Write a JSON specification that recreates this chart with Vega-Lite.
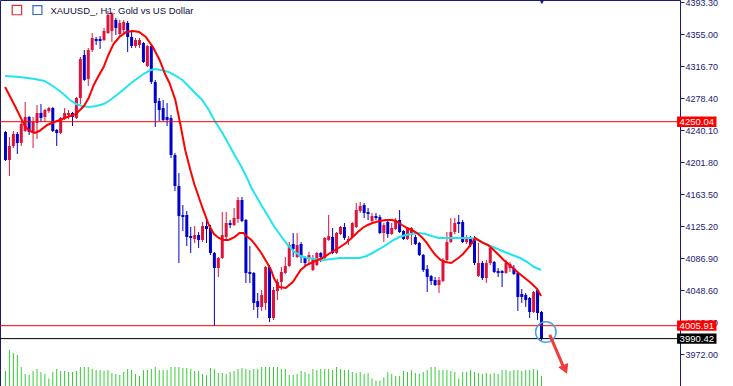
{
"$schema": "https://vega.github.io/schema/vega-lite/v6.json",
"width": 680, "height": 386,
"padding": {"left": 0, "top": 0, "right": 53, "bottom": 0},
"autosize": {"type": "none"},
"background": "white",
"config": {"view": {"stroke": "#1b1b78", "strokeWidth": 1}, "font": "Liberation Sans"},
"datasets": {
"one": [{}],
"candles": [
{"i":0,"o":4237.7,"h":4238.9,"l":4203.0,"c":4204.2,"v":150},
{"i":1,"o":4204.2,"h":4231.7,"l":4185.1,"c":4221.0,"v":360},
{"i":2,"o":4221.0,"h":4238.9,"l":4218.6,"c":4235.3,"v":330},
{"i":3,"o":4235.3,"h":4237.7,"l":4211.4,"c":4224.6,"v":310},
{"i":4,"o":4224.6,"h":4249.7,"l":4221.0,"c":4247.3,"v":190},
{"i":5,"o":4238.9,"h":4273.6,"l":4237.7,"c":4255.7,"v":120},
{"i":6,"o":4255.7,"h":4256.9,"l":4234.1,"c":4237.7,"v":110},
{"i":7,"o":4237.7,"h":4255.7,"l":4218.6,"c":4249.7,"v":150},
{"i":8,"o":4248.5,"h":4270.0,"l":4229.3,"c":4260.5,"v":170},
{"i":9,"o":4260.5,"h":4271.2,"l":4249.7,"c":4254.5,"v":140},
{"i":10,"o":4255.7,"h":4265.2,"l":4249.7,"c":4264.0,"v":120},
{"i":11,"o":4262.8,"h":4267.6,"l":4260.5,"c":4266.4,"v":75},
{"i":12,"o":4266.4,"h":4267.6,"l":4237.7,"c":4238.9,"v":140},
{"i":13,"o":4240.1,"h":4241.3,"l":4221.0,"c":4236.5,"v":170},
{"i":14,"o":4236.5,"h":4255.7,"l":4235.3,"c":4254.5,"v":150},
{"i":15,"o":4254.5,"h":4266.4,"l":4252.1,"c":4260.5,"v":150},
{"i":16,"o":4258.1,"h":4264.0,"l":4253.3,"c":4260.5,"v":140},
{"i":17,"o":4260.5,"h":4261.7,"l":4244.9,"c":4255.7,"v":140},
{"i":18,"o":4254.5,"h":4279.6,"l":4253.3,"c":4278.4,"v":150},
{"i":19,"o":4278.4,"h":4327.5,"l":4271.2,"c":4325.1,"v":190},
{"i":20,"o":4329.9,"h":4335.9,"l":4298.8,"c":4300.0,"v":190},
{"i":21,"o":4301.2,"h":4338.3,"l":4292.8,"c":4335.9,"v":190},
{"i":22,"o":4335.9,"h":4356.2,"l":4333.5,"c":4350.2,"v":170},
{"i":23,"o":4349.0,"h":4351.4,"l":4341.8,"c":4346.6,"v":160},
{"i":24,"o":4349.0,"h":4352.6,"l":4337.1,"c":4346.6,"v":160},
{"i":25,"o":4347.8,"h":4362.2,"l":4346.6,"c":4358.6,"v":150},
{"i":26,"o":4356.2,"h":4382.5,"l":4355.0,"c":4377.8,"v":160},
{"i":27,"o":4358.6,"h":4381.3,"l":4345.4,"c":4378.9,"v":130},
{"i":28,"o":4371.8,"h":4374.2,"l":4353.8,"c":4362.2,"v":120},
{"i":29,"o":4355.0,"h":4371.8,"l":4351.4,"c":4368.2,"v":110},
{"i":30,"o":4359.8,"h":4371.8,"l":4353.8,"c":4369.4,"v":140},
{"i":31,"o":4368.2,"h":4370.6,"l":4333.5,"c":4351.4,"v":170},
{"i":32,"o":4351.4,"h":4359.8,"l":4338.3,"c":4340.7,"v":160},
{"i":33,"o":4340.6,"h":4350.2,"l":4338.3,"c":4347.8,"v":120},
{"i":34,"o":4341.8,"h":4350.2,"l":4338.3,"c":4347.8,"v":100},
{"i":35,"o":4344.2,"h":4345.4,"l":4320.3,"c":4321.5,"v":160},
{"i":36,"o":4316.7,"h":4341.8,"l":4315.5,"c":4340.6,"v":160},
{"i":37,"o":4340.6,"h":4341.8,"l":4295.2,"c":4297.6,"v":170},
{"i":38,"o":4297.6,"h":4300.0,"l":4243.7,"c":4272.4,"v":190},
{"i":39,"o":4274.8,"h":4278.4,"l":4250.9,"c":4264.0,"v":160},
{"i":40,"o":4266.4,"h":4276.0,"l":4250.9,"c":4252.1,"v":160},
{"i":41,"o":4255.7,"h":4272.4,"l":4244.9,"c":4252.1,"v":160},
{"i":42,"o":4254.5,"h":4258.1,"l":4206.6,"c":4210.2,"v":190},
{"i":43,"o":4210.2,"h":4212.6,"l":4167.1,"c":4173.1,"v":190},
{"i":44,"o":4173.1,"h":4188.6,"l":4080.9,"c":4137.2,"v":190},
{"i":45,"o":4138.4,"h":4150.3,"l":4119.2,"c":4136.0,"v":180},
{"i":46,"o":4138.4,"h":4143.2,"l":4101.3,"c":4112.0,"v":180},
{"i":47,"o":4113.2,"h":4124.0,"l":4092.9,"c":4110.9,"v":170},
{"i":48,"o":4109.7,"h":4125.2,"l":4104.9,"c":4114.4,"v":150},
{"i":49,"o":4114.4,"h":4118.0,"l":4098.9,"c":4108.5,"v":150},
{"i":50,"o":4108.5,"h":4130.0,"l":4106.1,"c":4125.2,"v":120},
{"i":51,"o":4125.2,"h":4132.4,"l":4104.9,"c":4121.6,"v":110},
{"i":52,"o":4122.8,"h":4126.4,"l":4090.5,"c":4092.9,"v":180},
{"i":53,"o":4092.9,"h":4094.1,"l":4005.9,"c":4074.9,"v":170},
{"i":54,"o":4074.9,"h":4088.1,"l":4064.2,"c":4086.9,"v":130},
{"i":55,"o":4086.9,"h":4142.0,"l":4085.7,"c":4114.4,"v":130},
{"i":56,"o":4112.0,"h":4142.0,"l":4109.7,"c":4128.8,"v":120},
{"i":57,"o":4128.8,"h":4132.4,"l":4122.8,"c":4126.4,"v":140},
{"i":58,"o":4126.4,"h":4146.8,"l":4125.2,"c":4134.8,"v":150},
{"i":59,"o":4133.6,"h":4159.9,"l":4128.8,"c":4156.3,"v":170},
{"i":60,"o":4156.3,"h":4159.9,"l":4130.0,"c":4131.2,"v":180},
{"i":61,"o":4132.4,"h":4133.6,"l":4057.0,"c":4069.0,"v":170},
{"i":62,"o":4070.2,"h":4101.3,"l":4057.0,"c":4067.8,"v":160},
{"i":63,"o":4069.0,"h":4070.2,"l":4024.7,"c":4033.1,"v":170},
{"i":64,"o":4035.4,"h":4045.0,"l":4015.1,"c":4028.3,"v":170},
{"i":65,"o":4028.3,"h":4048.6,"l":4023.5,"c":4042.6,"v":190},
{"i":66,"o":4033.1,"h":4077.3,"l":4024.7,"c":4076.1,"v":190},
{"i":67,"o":4076.1,"h":4078.5,"l":4010.3,"c":4015.1,"v":190},
{"i":68,"o":4015.1,"h":4052.2,"l":4012.7,"c":4048.6,"v":190},
{"i":69,"o":4047.4,"h":4061.8,"l":4036.6,"c":4058.2,"v":190},
{"i":70,"o":4058.2,"h":4076.1,"l":4048.6,"c":4070.2,"v":170},
{"i":71,"o":4069.0,"h":4088.1,"l":4067.8,"c":4077.3,"v":170},
{"i":72,"o":4077.3,"h":4106.1,"l":4076.1,"c":4102.5,"v":110},
{"i":73,"o":4103.7,"h":4116.8,"l":4088.1,"c":4097.7,"v":110},
{"i":74,"o":4088.1,"h":4116.8,"l":4086.9,"c":4102.5,"v":120},
{"i":75,"o":4103.7,"h":4106.1,"l":4080.9,"c":4088.1,"v":150},
{"i":76,"o":4086.9,"h":4089.3,"l":4076.1,"c":4080.9,"v":140},
{"i":77,"o":4086.9,"h":4094.1,"l":4078.5,"c":4090.5,"v":120},
{"i":78,"o":4072.5,"h":4090.5,"l":4071.3,"c":4086.9,"v":170},
{"i":79,"o":4078.5,"h":4094.1,"l":4077.3,"c":4092.9,"v":160},
{"i":80,"o":4092.9,"h":4094.1,"l":4082.1,"c":4088.1,"v":170},
{"i":81,"o":4086.9,"h":4112.0,"l":4084.5,"c":4110.9,"v":170},
{"i":82,"o":4108.5,"h":4138.4,"l":4107.3,"c":4113.2,"v":170},
{"i":83,"o":4112.0,"h":4122.8,"l":4091.7,"c":4092.9,"v":160},
{"i":84,"o":4092.9,"h":4118.0,"l":4091.7,"c":4116.8,"v":190},
{"i":85,"o":4115.6,"h":4125.2,"l":4114.4,"c":4124.0,"v":170},
{"i":86,"o":4124.0,"h":4128.8,"l":4108.5,"c":4110.9,"v":160},
{"i":87,"o":4107.3,"h":4113.2,"l":4102.5,"c":4109.7,"v":160},
{"i":88,"o":4112.0,"h":4130.0,"l":4110.9,"c":4128.8,"v":140},
{"i":89,"o":4124.0,"h":4152.7,"l":4122.8,"c":4144.4,"v":130},
{"i":90,"o":4143.2,"h":4153.9,"l":4140.8,"c":4149.2,"v":140},
{"i":91,"o":4150.3,"h":4152.7,"l":4134.8,"c":4140.8,"v":120},
{"i":92,"o":4142.0,"h":4146.8,"l":4132.4,"c":4139.6,"v":130},
{"i":93,"o":4131.2,"h":4140.8,"l":4130.0,"c":4137.2,"v":75},
{"i":94,"o":4137.2,"h":4140.8,"l":4132.4,"c":4134.8,"v":54},
{"i":95,"o":4136.0,"h":4138.4,"l":4115.6,"c":4116.8,"v":54},
{"i":96,"o":4116.8,"h":4128.8,"l":4106.1,"c":4126.4,"v":86},
{"i":97,"o":4130.0,"h":4132.4,"l":4110.9,"c":4115.6,"v":140},
{"i":98,"o":4115.6,"h":4128.8,"l":4114.4,"c":4122.8,"v":120},
{"i":99,"o":4121.6,"h":4134.8,"l":4120.4,"c":4131.2,"v":100},
{"i":100,"o":4132.4,"h":4144.4,"l":4116.8,"c":4118.0,"v":100},
{"i":101,"o":4119.2,"h":4120.4,"l":4108.5,"c":4109.7,"v":150},
{"i":102,"o":4109.7,"h":4124.0,"l":4108.5,"c":4121.6,"v":140},
{"i":103,"o":4116.8,"h":4124.0,"l":4102.5,"c":4122.8,"v":160},
{"i":104,"o":4112.0,"h":4114.4,"l":4102.5,"c":4103.7,"v":130},
{"i":105,"o":4104.9,"h":4106.1,"l":4089.3,"c":4090.5,"v":120},
{"i":106,"o":4090.5,"h":4091.7,"l":4070.2,"c":4072.5,"v":140},
{"i":107,"o":4073.7,"h":4078.5,"l":4046.2,"c":4064.2,"v":160},
{"i":108,"o":4065.4,"h":4066.6,"l":4054.6,"c":4059.4,"v":190},
{"i":109,"o":4060.6,"h":4064.2,"l":4053.4,"c":4054.6,"v":190},
{"i":110,"o":4054.6,"h":4064.2,"l":4045.0,"c":4060.6,"v":160},
{"i":111,"o":4059.4,"h":4086.9,"l":4058.2,"c":4084.5,"v":160},
{"i":112,"o":4084.5,"h":4118.0,"l":4082.1,"c":4106.1,"v":160},
{"i":113,"o":4106.1,"h":4134.8,"l":4104.9,"c":4118.0,"v":150},
{"i":114,"o":4118.0,"h":4134.8,"l":4115.6,"c":4128.8,"v":140},
{"i":115,"o":4130.0,"h":4138.4,"l":4116.8,"c":4127.6,"v":75},
{"i":116,"o":4130.0,"h":4132.4,"l":4104.9,"c":4106.1,"v":140},
{"i":117,"o":4106.1,"h":4114.4,"l":4103.7,"c":4110.9,"v":140},
{"i":118,"o":4110.9,"h":4113.2,"l":4100.1,"c":4102.5,"v":160},
{"i":119,"o":4108.5,"h":4113.2,"l":4078.5,"c":4080.9,"v":140},
{"i":120,"o":4065.4,"h":4104.9,"l":4064.2,"c":4080.9,"v":130},
{"i":121,"o":4080.9,"h":4083.3,"l":4060.6,"c":4063.0,"v":120},
{"i":122,"o":4063.0,"h":4084.5,"l":4057.0,"c":4080.9,"v":130},
{"i":123,"o":4080.9,"h":4101.3,"l":4078.5,"c":4098.9,"v":120},
{"i":124,"o":4082.1,"h":4083.3,"l":4069.0,"c":4070.2,"v":130},
{"i":125,"o":4071.3,"h":4074.9,"l":4064.2,"c":4069.0,"v":120},
{"i":126,"o":4071.3,"h":4072.5,"l":4052.2,"c":4069.0,"v":160},
{"i":127,"o":4069.0,"h":4084.5,"l":4067.8,"c":4080.9,"v":160},
{"i":128,"o":4074.9,"h":4082.1,"l":4070.2,"c":4079.7,"v":150},
{"i":129,"o":4074.9,"h":4078.5,"l":4066.6,"c":4067.8,"v":160},
{"i":130,"o":4069.0,"h":4070.2,"l":4023.5,"c":4040.2,"v":160},
{"i":131,"o":4043.8,"h":4049.8,"l":4033.1,"c":4040.2,"v":150},
{"i":132,"o":4042.6,"h":4045.0,"l":4028.3,"c":4036.6,"v":160},
{"i":133,"o":4039.0,"h":4040.2,"l":4015.1,"c":4022.3,"v":160},
{"i":134,"o":4022.3,"h":4047.4,"l":4021.1,"c":4046.2,"v":170},
{"i":135,"o":4048.6,"h":4049.8,"l":4012.7,"c":4021.1,"v":160},
{"i":136,"o":4022.3,"h":4023.5,"l":3988.0,"c":3990.4,"v":100}
],
"red": [
{"k":-0.1,"p":4291.6},{"k":2.4,"p":4268.8},{"k":4.9,"p":4244.9},{"k":6.1,"p":4238.9},{"k":7.4,"p":4236.5},{"k":8.6,"p":4238.9},{"k":10.6,"p":4246.1},{"k":12.4,"p":4249.7},{"k":14.4,"p":4253.3},{"k":16.4,"p":4256.9},{"k":17.9,"p":4259.3},{"k":18.9,"p":4264.0},{"k":19.9,"p":4268.8},{"k":21.1,"p":4278.4},{"k":22.4,"p":4294.0},{"k":23.6,"p":4304.7},{"k":24.9,"p":4315.5},{"k":26.1,"p":4329.9},{"k":27.4,"p":4343.0},{"k":28.9,"p":4351.4},{"k":30.6,"p":4357.4},{"k":32.4,"p":4358.6},{"k":33.9,"p":4357.4},{"k":35.6,"p":4351.4},{"k":37.4,"p":4339.4},{"k":39.1,"p":4323.9},{"k":40.6,"p":4305.9},{"k":41.6,"p":4296.4},{"k":43.1,"p":4276.0},{"k":44.4,"p":4246.1},{"k":45.6,"p":4216.2},{"k":46.9,"p":4192.2},{"k":47.9,"p":4175.5},{"k":49.9,"p":4148.0},{"k":51.6,"p":4126.4},{"k":52.9,"p":4115.6},{"k":54.1,"p":4110.9},{"k":55.4,"p":4108.5},{"k":56.6,"p":4108.5},{"k":58.1,"p":4112.0},{"k":59.4,"p":4116.8},{"k":60.4,"p":4116.8},{"k":61.1,"p":4113.2},{"k":62.4,"p":4108.5},{"k":63.6,"p":4101.3},{"k":64.9,"p":4092.9},{"k":66.4,"p":4080.9},{"k":67.4,"p":4072.5},{"k":68.1,"p":4063.0},{"k":69.4,"p":4052.2},{"k":71.1,"p":4051.0},{"k":72.9,"p":4058.2},{"k":74.9,"p":4072.5},{"k":76.4,"p":4078.5},{"k":78.1,"p":4082.1},{"k":80.4,"p":4086.9},{"k":82.4,"p":4092.9},{"k":84.9,"p":4100.1},{"k":86.4,"p":4104.9},{"k":88.1,"p":4112.0},{"k":89.4,"p":4118.0},{"k":90.6,"p":4122.8},{"k":91.9,"p":4126.4},{"k":93.1,"p":4128.8},{"k":94.9,"p":4131.2},{"k":96.6,"p":4132.4},{"k":98.1,"p":4132.4},{"k":99.1,"p":4131.2},{"k":100.6,"p":4126.4},{"k":101.9,"p":4122.8},{"k":103.1,"p":4120.4},{"k":104.4,"p":4116.8},{"k":105.6,"p":4112.0},{"k":106.9,"p":4104.9},{"k":108.1,"p":4096.5},{"k":109.1,"p":4090.5},{"k":110.4,"p":4084.5},{"k":111.6,"p":4082.1},{"k":113.1,"p":4080.9},{"k":114.9,"p":4086.9},{"k":116.1,"p":4091.7},{"k":117.4,"p":4098.9},{"k":118.4,"p":4104.9},{"k":119.1,"p":4110.9},{"k":119.9,"p":4108.5},{"k":121.1,"p":4104.9},{"k":122.4,"p":4102.5},{"k":123.6,"p":4097.7},{"k":124.9,"p":4091.7},{"k":126.4,"p":4084.5},{"k":127.9,"p":4078.5},{"k":129.9,"p":4070.2},{"k":131.1,"p":4065.4},{"k":132.4,"p":4060.6},{"k":133.6,"p":4055.8},{"k":134.9,"p":4049.8},{"k":135.9,"p":4041.4}
],
"cyan": [
{"k":-0.1,"p":4304.7},{"k":3.6,"p":4303.5},{"k":7.4,"p":4301.2},{"k":9.9,"p":4298.8},{"k":12.4,"p":4291.6},{"k":14.4,"p":4284.4},{"k":16.4,"p":4276.0},{"k":17.9,"p":4271.2},{"k":19.4,"p":4268.8},{"k":21.1,"p":4267.6},{"k":23.1,"p":4268.8},{"k":24.9,"p":4271.2},{"k":26.6,"p":4276.0},{"k":28.6,"p":4283.2},{"k":30.4,"p":4290.4},{"k":31.9,"p":4296.4},{"k":33.6,"p":4302.4},{"k":35.4,"p":4308.3},{"k":36.9,"p":4311.9},{"k":37.9,"p":4313.1},{"k":39.4,"p":4311.9},{"k":41.4,"p":4309.5},{"k":42.9,"p":4305.9},{"k":44.9,"p":4300.0},{"k":46.9,"p":4290.4},{"k":48.6,"p":4282.0},{"k":49.9,"p":4276.0},{"k":51.6,"p":4264.0},{"k":53.1,"p":4250.9},{"k":54.9,"p":4237.7},{"k":56.6,"p":4223.4},{"k":58.1,"p":4210.2},{"k":59.9,"p":4195.8},{"k":61.4,"p":4181.5},{"k":62.4,"p":4170.7},{"k":63.6,"p":4161.1},{"k":64.9,"p":4150.3},{"k":66.6,"p":4137.2},{"k":68.1,"p":4125.2},{"k":69.9,"p":4113.2},{"k":71.6,"p":4102.5},{"k":73.1,"p":4095.3},{"k":74.9,"p":4089.3},{"k":76.6,"p":4086.9},{"k":78.6,"p":4085.7},{"k":80.6,"p":4084.5},{"k":82.9,"p":4085.7},{"k":84.9,"p":4086.9},{"k":87.4,"p":4086.9},{"k":89.9,"p":4086.9},{"k":91.6,"p":4089.3},{"k":93.1,"p":4092.9},{"k":94.9,"p":4097.7},{"k":96.6,"p":4102.5},{"k":98.1,"p":4107.3},{"k":99.9,"p":4112.0},{"k":101.6,"p":4114.4},{"k":103.1,"p":4115.6},{"k":104.9,"p":4116.8},{"k":106.6,"p":4115.6},{"k":108.1,"p":4113.2},{"k":109.9,"p":4110.9},{"k":112.4,"p":4110.9},{"k":114.9,"p":4110.9},{"k":116.6,"p":4110.9},{"k":118.1,"p":4110.9},{"k":119.9,"p":4108.5},{"k":122.4,"p":4102.5},{"k":124.9,"p":4097.7},{"k":126.6,"p":4094.1},{"k":128.6,"p":4090.5},{"k":130.6,"p":4086.9},{"k":132.4,"p":4082.1},{"k":134.1,"p":4076.1},{"k":135.9,"p":4072.5}
]
},
"layer": [
{
"data": {"name": "candles"},
"mark": {"type": "rule", "color": "#32cd32", "strokeWidth": 1},
"encoding": {
"x": {"field": "i", "type": "quantitative", "scale": {"domain": [-0.125, 169.875], "nice": false, "zero": false}, "axis": null},
"y": {"field": "v", "type": "quantitative", "scale": {"domain": [0, 3860], "nice": false, "zero": true}, "axis": null},
"y2": {"datum": 0}
}
},
{
"layer": [
{
"data": {"name": "candles"},
"mark": {"type": "rule", "strokeWidth": 1},
"encoding": {
"x": {"field": "i", "type": "quantitative", "scale": {"domain": [-0.125, 169.875], "nice": false, "zero": false}, "axis": null},
"y": {"field": "l", "type": "quantitative", "scale": {"domain": [3933.71, 4395.7], "nice": false, "zero": false},
"axis": {"orient": "right", "values": [4393.3, 4355.0, 4316.7, 4278.4, 4240.1, 4201.8, 4163.5, 4125.2, 4086.9, 4048.6, 4010.3, 3972.0], "tickCount": 40, "format": ".2f", "title": null, "grid": false, "domainColor": "#1b1b78", "tickColor": "#1b1b78", "labelColor": "#1b1b78", "labelFont": "Liberation Sans", "labelFontSize": 9, "tickSize": 4, "labelPadding": 1, "labelOverlap": false, "labelFlush": false, "labelBound": false}},
"y2": {"field": "h"},
"color": {"condition": {"test": "datum.c >= datum.o", "value": "#dc143c"}, "value": "#0000cd"}
}
},
{
"data": {"name": "candles"},
"mark": {"type": "bar", "size": 3},
"encoding": {
"x": {"field": "i", "type": "quantitative"},
"y": {"field": "o", "type": "quantitative"},
"y2": {"field": "c"},
"color": {"condition": {"test": "datum.c >= datum.o", "value": "#dc143c"}, "value": "#0000cd"}
}
},
{
"data": {"name": "cyan"},
"mark": {"type": "line", "color": "#22e4ee", "strokeWidth": 2},
"encoding": {"x": {"field": "k", "type": "quantitative"}, "y": {"field": "p", "type": "quantitative"}}
},
{
"data": {"name": "red"},
"mark": {"type": "line", "color": "#ff0000", "strokeWidth": 2},
"encoding": {"x": {"field": "k", "type": "quantitative"}, "y": {"field": "p", "type": "quantitative"}}
},
{"data": {"name": "one"}, "mark": {"type": "rule", "color": "#ff0000", "strokeWidth": 1}, "encoding": {"y": {"datum": 4250.04}}},
{"data": {"name": "one"}, "mark": {"type": "rule", "color": "#ff0000", "strokeWidth": 1}, "encoding": {"y": {"datum": 4005.91}}},
{"data": {"name": "one"}, "mark": {"type": "rule", "color": "#000000", "strokeWidth": 1}, "encoding": {"y": {"datum": 3990.42}}},
{"data": {"name": "one"}, "mark": {"type": "rect", "color": "#ff0000"}, "encoding": {"x": {"datum": 170.4}, "x2": {"datum": 180.4}, "y": {"datum": 4243.8}, "y2": {"datum": 4256.3}}},
{"data": {"name": "one"}, "mark": {"type": "rect", "color": "#ff0000"}, "encoding": {"x": {"datum": 170.4}, "x2": {"datum": 180.4}, "y": {"datum": 3999.7}, "y2": {"datum": 4012.1}}},
{"data": {"name": "one"}, "mark": {"type": "rect", "color": "#000000"}, "encoding": {"x": {"datum": 170.4}, "x2": {"datum": 180.4}, "y": {"datum": 3984.2}, "y2": {"datum": 3996.6}}},
{"data": {"name": "one"}, "mark": {"type": "text", "text": "4250.04", "color": "#ffffff", "font": "Liberation Sans", "fontSize": 9.5, "align": "center", "baseline": "middle"}, "encoding": {"x": {"datum": 175.4}, "y": {"datum": 4250.04}}},
{"data": {"name": "one"}, "mark": {"type": "text", "text": "4005.91", "color": "#ffffff", "font": "Liberation Sans", "fontSize": 9.5, "align": "center", "baseline": "middle"}, "encoding": {"x": {"datum": 175.4}, "y": {"datum": 4005.91}}},
{"data": {"name": "one"}, "mark": {"type": "text", "text": "3990.42", "color": "#ffffff", "font": "Liberation Sans", "fontSize": 9.5, "align": "center", "baseline": "middle"}, "encoding": {"x": {"datum": 175.4}, "y": {"datum": 3990.42}}},
{"data": {"name": "one"}, "mark": {"type": "text", "text": "XAUUSD_, H1:  Gold vs US Dollar", "color": "#10103a", "font": "Liberation Sans", "fontSize": 9.5, "align": "left", "baseline": "middle"}, "encoding": {"x": {"datum": 11.4}, "y": {"datum": 4382.5}}},
{"data": {"name": "one"}, "mark": {"type": "point", "shape": "square", "size": 90, "filled": false, "color": "#e0303a", "strokeWidth": 1.2, "opacity": 1}, "encoding": {"x": {"datum": 2.9}, "y": {"datum": 4383.7}}},
{"data": {"name": "one"}, "mark": {"type": "point", "shape": "square", "size": 80, "filled": false, "color": "#3a6ac8", "strokeWidth": 1.2, "opacity": 1}, "encoding": {"x": {"datum": 8.1}, "y": {"datum": 4383.7}}},
{"data": {"name": "one"}, "mark": {"type": "point", "shape": "triangle-down", "size": 40, "filled": true, "color": "#1b1b78", "opacity": 1}, "encoding": {"x": {"datum": 136.1}, "y": {"datum": 4394.0}}},
{"data": {"name": "one"}, "mark": {"type": "point", "shape": "circle", "size": 420, "filled": false, "color": "#4aa3df", "strokeWidth": 1.5, "opacity": 1}, "encoding": {"x": {"datum": 137.1}, "y": {"datum": 3998.3}}},
{"data": {"name": "one"}, "mark": {"type": "rule", "color": "#f03c3c", "strokeWidth": 3}, "encoding": {"x": {"datum": 138.1}, "y": {"datum": 3994.8}, "x2": {"datum": 141.6}, "y2": {"datum": 3956.4}}},
{"data": {"name": "one"}, "mark": {"type": "point", "shape": "triangle-down", "size": 120, "filled": true, "color": "#f03c3c", "angle": -23.6, "opacity": 1}, "encoding": {"x": {"datum": 142.0}, "y": {"datum": 3953.5}}}
]
}
],
"resolve": {"scale": {"y": "independent"}}
}
